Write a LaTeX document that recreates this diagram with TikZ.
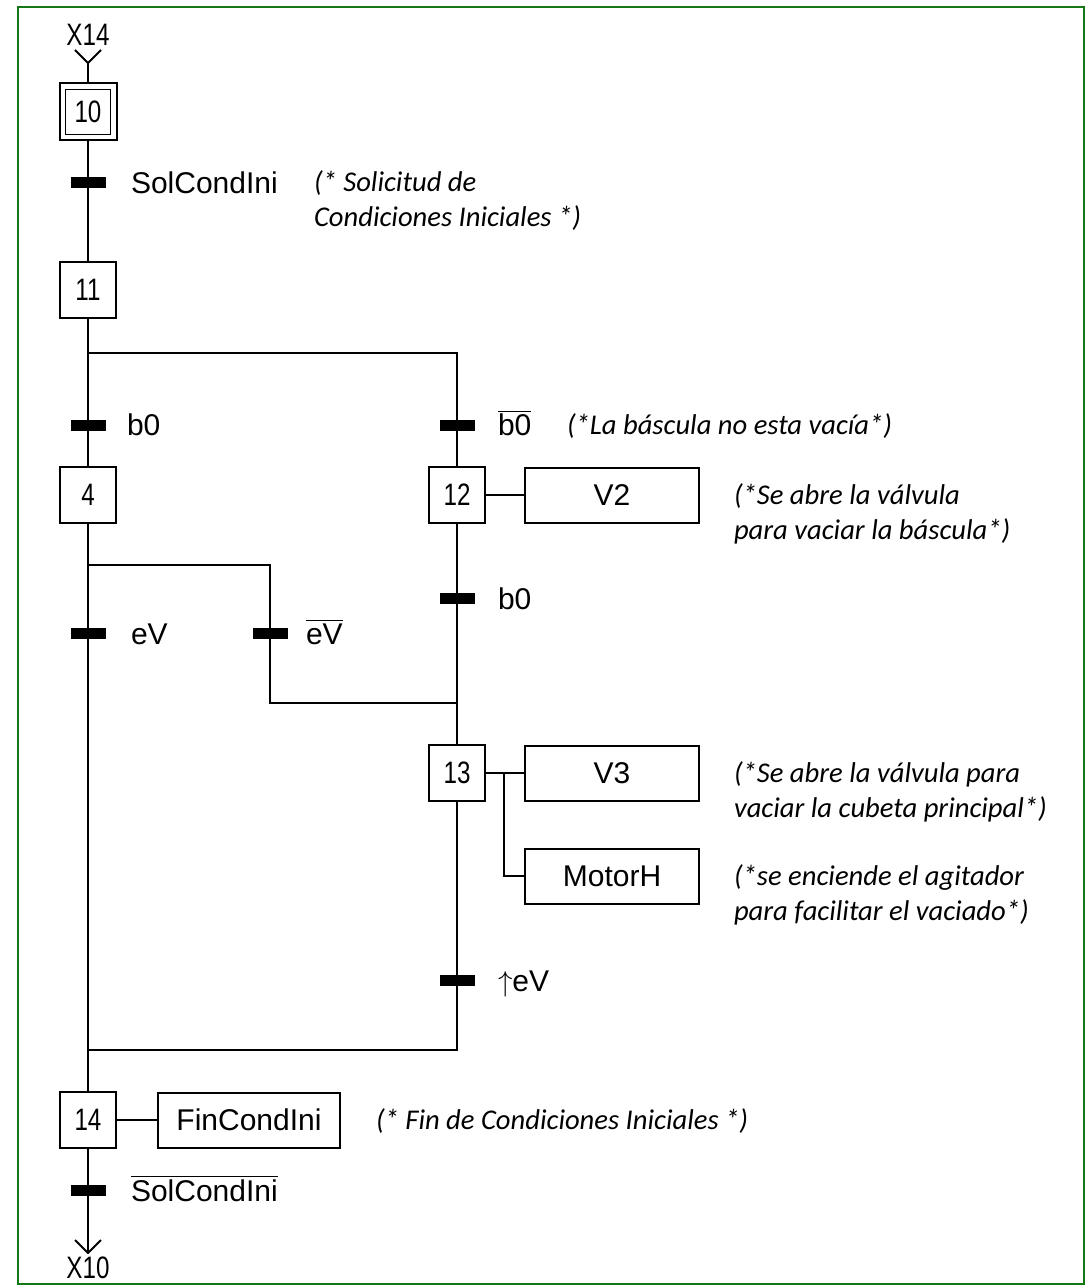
\documentclass[tikz,border=0pt]{standalone}
\usepackage{fontspec}
\setmainfont{Liberation Sans}
\newfontfamily\estrecha{Liberation Sans}[FakeStretch=0.78]
\newfontfamily\comentfont{Carlito}
\definecolor{marco}{RGB}{20,120,20}

\begin{document}
\begin{tikzpicture}[x=0.5pt,y=-0.5pt,line width=1pt,
  etapa/.style={draw,minimum width=28pt,minimum height=28pt,inner sep=0pt,font=\estrecha\fontsize{15.5}{18}\selectfont},
  accion/.style={draw,minimum width=87pt,minimum height=27.5pt,inner sep=0pt,font=\fontsize{15}{18}\selectfont},
  barra/.style={fill=black,minimum width=17.5pt,minimum height=5.5pt,inner sep=0pt},
  cond/.style={anchor=base west,yshift=-5.5pt,inner sep=0pt,font=\fontsize{15}{18}\selectfont},
  coment/.style={anchor=base west,inner sep=0pt,align=left,font=\comentfont\itshape\fontsize{14.3}{17.5}\selectfont},
  enlace/.style={font=\estrecha\fontsize{15.5}{18}\selectfont,inner sep=0pt}]
\useasboundingbox (0,0) rectangle (1090,1288);
\draw[marco] (18,7) rectangle (1084,1284);

% entrada
\node[enlace] (x14) at (88,35) {X14};
\coordinate (ent) at (88,63);
\draw (ent) ++(-13,-13) -- (ent) -- ++(13,-13);

% etapas
\node[etapa,minimum width=28.5pt,minimum height=28.5pt] (e10) at (88,112) {};
\node[etapa,minimum width=22.5pt,minimum height=22.5pt,line width=0.7pt] (e10i) at (e10) {10};
\node[etapa] (e11) at (88,290) {11};
\node[etapa] (e4) at (88,495) {4};
\node[etapa] (e12) at (457,495) {12};
\node[etapa] (e13) at (457,773) {13};
\node[etapa] (e14) at (88,1120) {14};

% acciones
\node[accion] (a12) at (612,495) {V2};
\node[accion] (a13) at (612,773) {V3};
\node[accion] (a13m) at (612,876) {MotorH};
\node[accion,minimum width=91pt] (a14) at (249,1120) {FinCondIni};

% transiciones
\node[barra] (t1) at (88,183) {};
\node[barra] (t2) at (88,425) {};
\node[barra] (t3) at (457,425) {};
\node[barra] (t4) at (88,633) {};
\node[barra] (t5) at (270,633) {};
\node[barra] (t6) at (457,598) {};
\node[barra] (t7) at (457,980) {};
\node[barra] (t8) at (88,1190) {};

\node[cond] (c1) at (130,183) {SolCondIni};
\node[cond] (c2) at (126,425) {b0};
\node[cond] (c3) at (497,425) {$\overline{\mbox{b0}}$};
\node[cond] (c4) at (130,633) {eV};
\node[cond] (c5) at (305,633) {$\overline{\mbox{eV}}$};
\node[cond] (c6) at (497,598) {b0};
\node[cond] (c7) at (497,980) {$\uparrow$eV};
\node[cond] (c8) at (130,1190) {$\overline{\mbox{SolCondIni}}$};

% puntos de union
\coordinate (d1) at (88,353);
\coordinate (d1r) at (457,353);
\coordinate (d2) at (88,565);
\coordinate (d2r) at (270,565);
\coordinate (j1) at (270,703);
\coordinate (j1r) at (457,703);
\coordinate (j2) at (88,1050);
\coordinate (j2r) at (457,1050);
\coordinate (rama) at (504,773);
\coordinate (sal) at (88,1253);

\draw (ent) -- (e10);
\draw (e10) -- (e11);
\draw (e11) -- (e4);
\draw (d1) -- (d1r) -- (e12);
\draw (e4) -- (e14);
\draw (d2) -- (d2r) -- (j1) -- (j1r);
\draw (e12) -- (e13);
\draw (e13) -- (j2r) -- (j2);
\draw (e14) -- (sal);
\draw (sal) ++(-13,-13) -- (sal) -- ++(13,-13);
\draw (e12) -- (a12);
\draw (e13) -- (a13);
\draw (rama) |- (a13m);
\draw (e14) -- (a14);

% salida
\node[enlace] (x10) at (88,1268) {X10};

% comentarios
\node[coment] (k1) at (313,227) {(* Solicitud de\\Condiciones Iniciales *)};
\node[coment] (k2) at (566,434) {(*La báscula no esta vacía*)};
\node[coment] (k3) at (733,539) {(*Se abre la válvula\\para vaciar la báscula*)};
\node[coment] (k4) at (733,817) {(*Se abre la válvula para\\vaciar la cubeta principal*)};
\node[coment] (k5) at (733,920) {(*se enciende el agitador\\para facilitar el vaciado*)};
\node[coment] (k6) at (375,1129) {(* Fin de Condiciones Iniciales *)};
\end{tikzpicture}
\end{document}
